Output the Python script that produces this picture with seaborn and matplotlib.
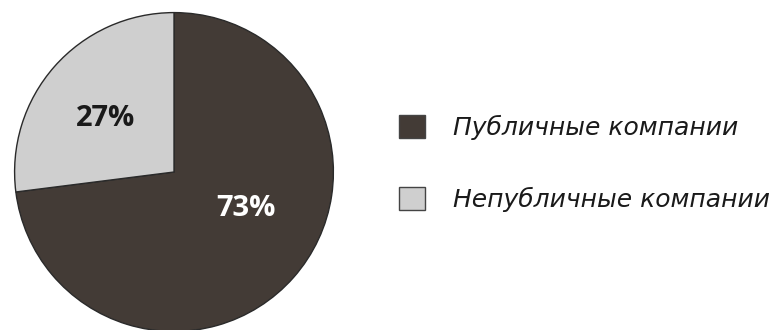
import matplotlib
matplotlib.use("Agg")
import matplotlib.pyplot as plt
import seaborn as sns
from matplotlib.patches import Patch

labels = ["Публичные компании", "Непубличные компании"]
shares = [73, 27]
colors = ["#433b36", "#cfcfcf"]
pct_colors = ["white", "#1a1a1a"]
# label anchor points inside each wedge (pie data units)
pct_pos = [(0.45, -0.23), (-0.43, 0.335)]

sns.set_theme(style="white")
plt.rcParams["font.family"] = ["Open Sans", "DejaVu Sans"]

W, H = 777, 330
fig = plt.figure(figsize=(W / 100, H / 100), dpi=100)

# pie axes placed in pixel terms: centre (174, 172), radius 161
cx, cy, r = 174, 172, 161
ax = fig.add_axes([(cx - r) / W, (H - cy - r) / H, 2 * r / W, 2 * r / H])
wedges, texts, autotexts = ax.pie(
    shares,
    colors=colors,
    startangle=90,
    counterclock=False,
    autopct="%d%%",
    radius=1,
    wedgeprops=dict(edgecolor="#2a2a2a", linewidth=1.0),
)
for t, c, p in zip(autotexts, pct_colors, pct_pos):
    t.set_color(c)
    t.set_fontsize(21)
    t.set_fontweight("bold")
    t.set_position(p)
ax.set_xlim(-1.01, 1.01)
ax.set_ylim(-1.01, 1.01)
ax.set_aspect("equal")
ax.axis("off")

handles = [Patch(facecolor=c, edgecolor="#444444", linewidth=1.0) for c in colors]
fig.legend(
    handles,
    labels,
    loc="center left",
    bbox_to_anchor=(399 / W, 1 - 163.5 / H),
    frameon=False,
    borderpad=0,
    borderaxespad=0,
    prop=dict(family=["DejaVu Sans"], style="oblique", size=18),
    handlelength=1.05,
    handleheight=1.05,
    handletextpad=1.1,
    labelspacing=1.88,
    labelcolor="#1a1a1a",
)

fig.savefig("out.png", dpi=100, facecolor="white")
